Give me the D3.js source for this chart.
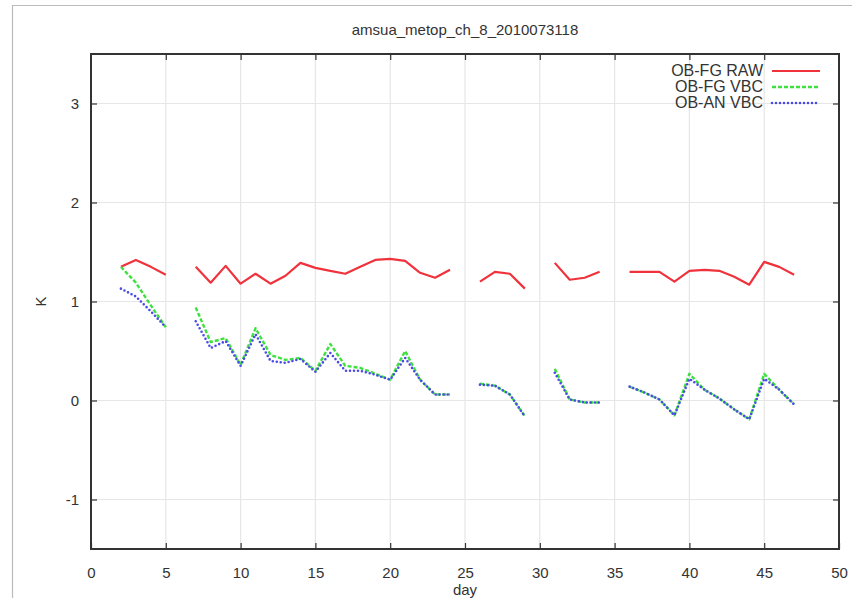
<!DOCTYPE html>
<html>
<head>
<meta charset="utf-8">
<script src="https://cdn.jsdelivr.net/npm/d3@7/dist/d3.min.js"></script>
<style>
  html, body { margin: 0; padding: 0; background: #fff; }
  svg { display: block; }
  text { font-family: "Liberation Sans Narrow", "Arial Narrow", "Liberation Sans", sans-serif; fill: #333; }
</style>
</head>
<body>
<svg id="chart" width="852" height="598"></svg>
<script>
// Daily mean departures (K); null marks days without data
const days = d3.range(1, 48);
const obFgRaw = [
  null, 1.35, 1.42, 1.35, 1.27, null, 1.35, 1.19, 1.36, 1.18,
  1.28, 1.18, 1.26, 1.39, 1.34, 1.31, 1.28, 1.35, 1.42, 1.43,
  1.41, 1.29, 1.24, 1.32, null, 1.20, 1.30, 1.28, 1.13, null,
  1.39, 1.22, 1.24, 1.30, null, 1.30, 1.30, 1.30, 1.20, 1.31,
  1.32, 1.31, 1.25, 1.17, 1.40, 1.35, 1.27
];
const obFgVbc = [
  null, 1.35, 1.19, 0.96, 0.74, null, 0.94, 0.59, 0.63, 0.36,
  0.73, 0.46, 0.41, 0.43, 0.30, 0.57, 0.35, 0.33, 0.27, 0.21,
  0.50, 0.21, 0.06, 0.06, null, 0.17, 0.15, 0.06, -0.16, null,
  0.32, 0.01, -0.02, -0.02, null, 0.14, 0.08, 0.01, -0.15, 0.27,
  0.11, 0.02, -0.09, -0.19, 0.27, 0.11, -0.04
];
const obAnVbc = [
  null, 1.13, 1.05, 0.90, 0.74, null, 0.80, 0.53, 0.60, 0.35,
  0.67, 0.40, 0.38, 0.42, 0.29, 0.48, 0.30, 0.30, 0.26, 0.21,
  0.43, 0.21, 0.06, 0.06, null, 0.16, 0.15, 0.06, -0.16, null,
  0.28, 0.01, -0.02, -0.02, null, 0.14, 0.08, 0.01, -0.15, 0.22,
  0.11, 0.02, -0.09, -0.19, 0.22, 0.11, -0.04
];
const xTicks = [0, 5, 10, 15, 20, 25, 30, 35, 40, 45, 50];
const yTicks = [-1, 0, 1, 2, 3];
const seriesNames = ["OB-FG RAW", "OB-FG VBC", "OB-AN VBC"];

const svg = d3.select("#chart");
const plot = { left: 91, right: 839, top: 54, bottom: 549 };

const x = d3.scaleLinear().domain([0, 50]).range([plot.left, plot.right]);
const y = d3.scaleLinear().domain([-1.5, 3.5]).range([plot.bottom, plot.top]);

// outer frame of the figure
svg.append("path")
  .attr("d", `M12.5,598 L12.5,5.5 L852,5.5`)
  .attr("fill", "none").attr("stroke", "#bbb").attr("stroke-width", 1.2);

// grid
const grid = svg.append("g").attr("stroke", "#e6e6e6").attr("stroke-width", 1.2);
grid.selectAll("line.gx").data(xTicks.slice(1, -1)).join("line")
  .attr("x1", d => x(d)).attr("x2", d => x(d))
  .attr("y1", plot.top).attr("y2", plot.bottom);
grid.selectAll("line.gy").data(yTicks).join("line")
  .attr("x1", plot.left).attr("x2", plot.right)
  .attr("y1", d => y(d)).attr("y2", d => y(d));

// axes with inward ticks, mirrored on the opposite sides
const tickLen = 6;
const plain = d => String(d);
const axStyle = g => {
  g.select(".domain").remove();
  g.selectAll(".tick line").attr("stroke", "#333").attr("stroke-width", 1.2);
  g.selectAll(".tick text").attr("font-size", 15).attr("fill", "#333")
    .style("font-family", '"Liberation Sans Narrow", "Arial Narrow", "Liberation Sans", sans-serif');
};
svg.append("g").attr("transform", `translate(0,${plot.bottom})`)
  .call(d3.axisBottom(x).tickValues(xTicks).tickSize(-tickLen).tickPadding(18).tickFormat(plain))
  .call(axStyle);
svg.append("g").attr("transform", `translate(0,${plot.top})`)
  .call(d3.axisTop(x).tickValues(xTicks.slice(1, -1)).tickSize(-tickLen).tickFormat(""))
  .call(axStyle);
svg.append("g").attr("transform", `translate(${plot.left},0)`)
  .call(d3.axisLeft(y).tickValues(yTicks).tickSize(-tickLen).tickPadding(12).tickFormat(plain))
  .call(axStyle);
svg.append("g").attr("transform", `translate(${plot.right},0)`)
  .call(d3.axisRight(y).tickValues(yTicks).tickSize(-tickLen).tickFormat(""))
  .call(axStyle);

// plot border
svg.append("rect")
  .attr("x", plot.left).attr("y", plot.top)
  .attr("width", plot.right - plot.left).attr("height", plot.bottom - plot.top)
  .attr("fill", "none").attr("stroke", "#333").attr("stroke-width", 2);

// series
const styles = [
  { data: obFgRaw, color: "#f0323c", dash: null, width: 2.2, cap: "butt" },
  { data: obFgVbc, color: "#3de03d", dash: "4,2", width: 2.4, cap: "butt" },
  { data: obAnVbc, color: "#4a4ae6", dash: "0,4", width: 2.6, cap: "round" }
];
const line = d3.line()
  .defined(d => d[1] !== null)
  .x(d => x(d[0])).y(d => y(d[1]));
styles.forEach(s => {
  svg.append("path")
    .datum(days.map((d, i) => [d, s.data[i]]))
    .attr("d", line)
    .attr("fill", "none")
    .attr("stroke", s.color)
    .attr("stroke-width", s.width)
    .attr("stroke-linecap", s.cap)
    .attr("stroke-linejoin", "round")
    .attr("stroke-dasharray", s.dash);
});

// legend
const legend = svg.append("g");
seriesNames.forEach((name, i) => {
  const yy = 71 + i * 16;
  legend.append("text")
    .attr("x", 763).attr("y", yy + 5)
    .attr("text-anchor", "end").attr("font-size", 16).attr("fill", "#333")
    .text(name);
  legend.append("line")
    .attr("x1", 772).attr("x2", 820).attr("y1", yy).attr("y2", yy)
    .attr("stroke", styles[i].color).attr("stroke-width", styles[i].width)
    .attr("stroke-linecap", styles[i].cap)
    .attr("stroke-dasharray", styles[i].dash);
});

// titles
svg.append("text")
  .attr("x", 465).attr("y", 35).attr("text-anchor", "middle").attr("font-size", 15)
  .text("amsua_metop_ch_8_2010073118");
svg.append("text")
  .attr("x", 465).attr("y", 595).attr("text-anchor", "middle").attr("font-size", 15)
  .text("day");
svg.append("text")
  .attr("x", 41).attr("y", y(1)).attr("text-anchor", "middle").attr("font-size", 15)
  .attr("transform", `rotate(-90,41,${y(1)})`).attr("dy", "0.35em")
  .text("K");
</script>
</body>
</html>
